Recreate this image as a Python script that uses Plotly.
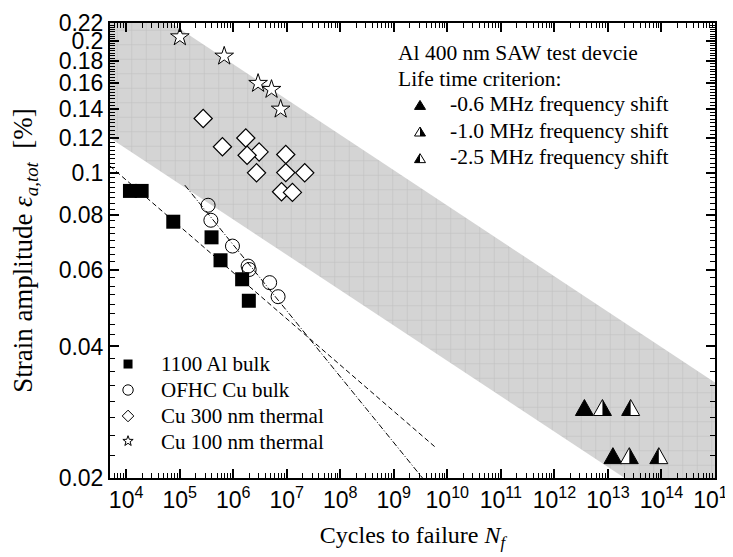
import plotly.graph_objects as go
import numpy as np

# ---------------- data ----------------
al_x = [1.18e4, 1.95e4, 7.6e4, 3.94e5, 5.8e5, 1.47e6, 1.96e6]
al_y = [0.0908, 0.0908, 0.0772, 0.0711, 0.0630, 0.0570, 0.0509]
cu_x = [3.4e5, 3.83e5, 9.7e5, 1.9e6, 1.99e6, 4.8e6, 6.9e6]
cu_y = [0.0842, 0.0778, 0.0679, 0.0611, 0.0600, 0.0560, 0.0520]
cu300_x = [2.75e5, 6.3e5, 1.72e6, 3.05e6, 1.82e6, 2.73e6, 9.6e6, 9.6e6, 2.17e7, 8.0e6, 1.28e7]
cu300_y = [0.133, 0.1146, 0.120, 0.1115, 0.1096, 0.0999, 0.110, 0.100, 0.0999, 0.0904, 0.0901]
cu100_x = [1.01e5, 6.8e5, 2.92e6, 5.2e6, 7.7e6]
cu100_y = [0.2045, 0.1847, 0.160, 0.155, 0.1397]
saw_y = [0.029, 0.0225]
saw06_x = [3.64e12, 1.24e13]
saw10_x = [7.9e12, 2.51e13]
saw25_x = [2.66e13, 8.93e13]
al_fit_x = [5e3, 5.8e9]
al_fit_y = [0.1035, 0.0236]
cu_fit_x = [1.25e5, 3.44e9]
cu_fit_y = [0.0936, 0.02]
band_x = [5e3, 1e15, 1e15, 5e3]
band_y = [0.272, 0.0331, 0.0146, 0.12]

x_tickvals = [10.0 ** k for k in range(4, 16)]
x_ticktext = ["10<sup>%d</sup>" % k for k in range(4, 16)]
y_tickvals = [0.02, 0.04, 0.06, 0.08, 0.1, 0.12, 0.14, 0.16, 0.18, 0.2, 0.22]
y_ticktext = ["0.02", "0.04", "0.06", "0.08", "0.1", "0.12", "0.14", "0.16", "0.18", "0.2", "0.22"]
legend_names = ["1100 Al bulk", "OFHC Cu bulk", "Cu 300 nm thermal", "Cu 100 nm thermal"]
saw_labels = ["-0.6 MHz frequency shift", "-1.0 MHz frequency shift", "-2.5 MHz frequency shift"]
saw_title = ["Al 400 nm SAW test devcie", "Life time criterion:"]

SERIF = "Liberation Serif, Times New Roman, serif"
SANS = "Liberation Sans, Arial, sans-serif"

fig = go.Figure()

# shaded band
fig.add_trace(go.Scatter(
    x=band_x, y=band_y, mode="lines", fill="toself",
    fillcolor="#d4d4d4", line=dict(width=0),
    fillpattern=dict(shape="+", size=14.5, solidity=0.07,
                     fgcolor="#bdbdbd", bgcolor="#d4d4d4", fillmode="replace"),
    showlegend=False, hoverinfo="skip"))

# fit lines
fig.add_trace(go.Scatter(x=al_fit_x, y=al_fit_y, mode="lines",
                         line=dict(color="black", width=1, dash="5px,3px"),
                         showlegend=False))
fig.add_trace(go.Scatter(x=cu_fit_x, y=cu_fit_y, mode="lines",
                         line=dict(color="black", width=1, dash="6px,2px,1px,2px"),
                         showlegend=False))

# data
fig.add_trace(go.Scatter(x=al_x, y=al_y, mode="markers", name=legend_names[0],
                         marker=dict(symbol="square", size=14, color="black"),
                         showlegend=False))
fig.add_trace(go.Scatter(x=cu_x, y=cu_y, mode="markers", name=legend_names[1],
                         marker=dict(symbol="circle-open", size=14, color="black",
                                     line=dict(width=1, color="black")),
                         showlegend=False))
fig.add_trace(go.Scatter(x=cu300_x, y=cu300_y, mode="markers", name=legend_names[2],
                         marker=dict(symbol="diamond", size=14, color="white",
                                     line=dict(width=1.2, color="black")),
                         showlegend=False))
fig.add_trace(go.Scatter(x=cu100_x, y=cu100_y, mode="markers", name=legend_names[3],
                         marker=dict(symbol="star", size=14, color="white",
                                     line=dict(width=1, color="black")),
                         showlegend=False))

shapes = []
annotations = []

# triangles (shapes anchored on data values)
def tri(xref, yref, xa, ya, w, h, kind):
    full = "M-%g,-%g L%g,-%g L0,%g Z" % (w, h, w, h, h)
    base = dict(type="path", xref=xref, yref=yref, xsizemode="pixel",
                ysizemode="pixel", xanchor=xa, yanchor=ya)
    out = [dict(base, path=full, fillcolor="black" if kind == "full" else "white",
                line=dict(color="black", width=1))]
    if kind == "right":
        out.append(dict(base, path="M0,-%g L%g,-%g L0,%g Z" % (h, w, h, h),
                        fillcolor="black", line=dict(width=0)))
    elif kind == "left":
        out.append(dict(base, path="M0,-%g L-%g,-%g L0,%g Z" % (h, w, h, h),
                        fillcolor="black", line=dict(width=0)))
    return out

for xs, kind in [(saw06_x, "full"), (saw10_x, "right"), (saw25_x, "left")]:
    for xv, yv in zip(xs, saw_y):
        shapes += tri("x", "y", xv, yv, 9, 8, kind)

# top-right text legend
for i, t in enumerate(saw_title):
    annotations.append(dict(xref="paper", yref="paper", x=0.4727, y=0.934 - i * 0.057,
                            xanchor="left", yanchor="middle", showarrow=False, text=t,
                            font=dict(family=SERIF, size=21.5, color="black")))
for i, (t, kind) in enumerate(zip(saw_labels, ["full", "right", "left"])):
    yp = 0.822 - i * 0.0585
    annotations.append(dict(xref="paper", yref="paper", x=0.5587, y=yp,
                            xanchor="left", yanchor="middle", showarrow=False, text=t,
                            font=dict(family=SERIF, size=21.5, color="black")))
    shapes += tri("paper", "paper", 0.5124, yp - 0.002, 5.5, 4.5, kind)

# bottom-left legend (symbol + label)
leg_x_sym = 0.0298
leg_x_txt = 0.081
leg_ys = [0.2505, 0.1934, 0.1363, 0.0791]
pix = dict(xref="paper", yref="paper", xsizemode="pixel", ysizemode="pixel")
shapes.append(dict(pix, type="rect", xanchor=leg_x_sym, yanchor=leg_ys[0],
                   x0=-4.5, x1=4.5, y0=-4.5, y1=4.5, fillcolor="black",
                   line=dict(width=0)))
shapes.append(dict(pix, type="circle", xanchor=leg_x_sym, yanchor=leg_ys[1],
                   x0=-5.2, x1=5.2, y0=-5.2, y1=5.2, fillcolor="white",
                   line=dict(color="black", width=1)))
shapes.append(dict(pix, type="path", xanchor=leg_x_sym, yanchor=leg_ys[2],
                   path="M0,5.8 L5.8,0 L0,-5.8 L-5.8,0 Z", fillcolor="white",
                   line=dict(color="black", width=1)))
ang = np.pi / 2 + np.arange(10) * np.pi / 5
rad = np.where(np.arange(10) % 2 == 0, 5.4, 2.2)
star_path = "M" + " L".join("%.2f,%.2f" % (r * np.cos(a), r * np.sin(a)) for r, a in zip(rad, ang)) + " Z"
shapes.append(dict(pix, type="path", xanchor=leg_x_sym, yanchor=leg_ys[3] + 0.002,
                   path=star_path, fillcolor="white", line=dict(color="black", width=1)))
for name, yv in zip(legend_names, leg_ys):
    annotations.append(dict(xref="paper", yref="paper", x=leg_x_txt, y=yv,
                            xanchor="left", yanchor="middle", showarrow=False, text=name,
                            font=dict(family=SERIF, size=21, color="black")))

y_minor = [round(v, 4) for v in np.arange(0.02, 0.2201, 0.0025)]
y_minor = [v for v in y_minor if all(abs(v - t) > 1e-6 for t in y_tickvals)]

axis_common = dict(showline=True, linecolor="black", linewidth=2, mirror="allticks",
                   ticks="inside", ticklen=9, tickwidth=1.5, tickcolor="black",
                   showgrid=False, zeroline=False, automargin=False,
                   ticklabeloverflow="allow",
                   tickfont=dict(family=SANS, size=23, color="black"))

fig.update_layout(
    width=725, height=549,
    margin=dict(l=102, r=18, t=15, b=79),
    paper_bgcolor="white", plot_bgcolor="white",
    shapes=shapes, annotations=annotations, showlegend=False,
    xaxis=dict(type="log", range=[np.log10(5e3), 15.0005],
               tickvals=x_tickvals, ticktext=x_ticktext,
               minor=dict(ticks="inside", ticklen=5, tickwidth=1, tickcolor="black",
                          dtick="D1", showgrid=False),
               title=dict(text="Cycles to failure <i>N</i><sub><i>f</i></sub>",
                          font=dict(family=SERIF, size=24, color="black"), standoff=15),
               **axis_common),
    yaxis=dict(type="log", range=[np.log10(0.02), np.log10(0.22)],
               tickvals=y_tickvals, ticktext=y_ticktext,
               minor=dict(ticks="inside", ticklen=5, tickwidth=1, tickcolor="black",
                          tickvals=y_minor, showgrid=False),
               title=dict(text="Strain amplitude <i>ε</i><sub><i>a,tot</i></sub>\u00a0 [%]",
                          font=dict(family=SERIF, size=27, color="black"), standoff=18),
               **axis_common),
)

fig.write_html("out.html")
